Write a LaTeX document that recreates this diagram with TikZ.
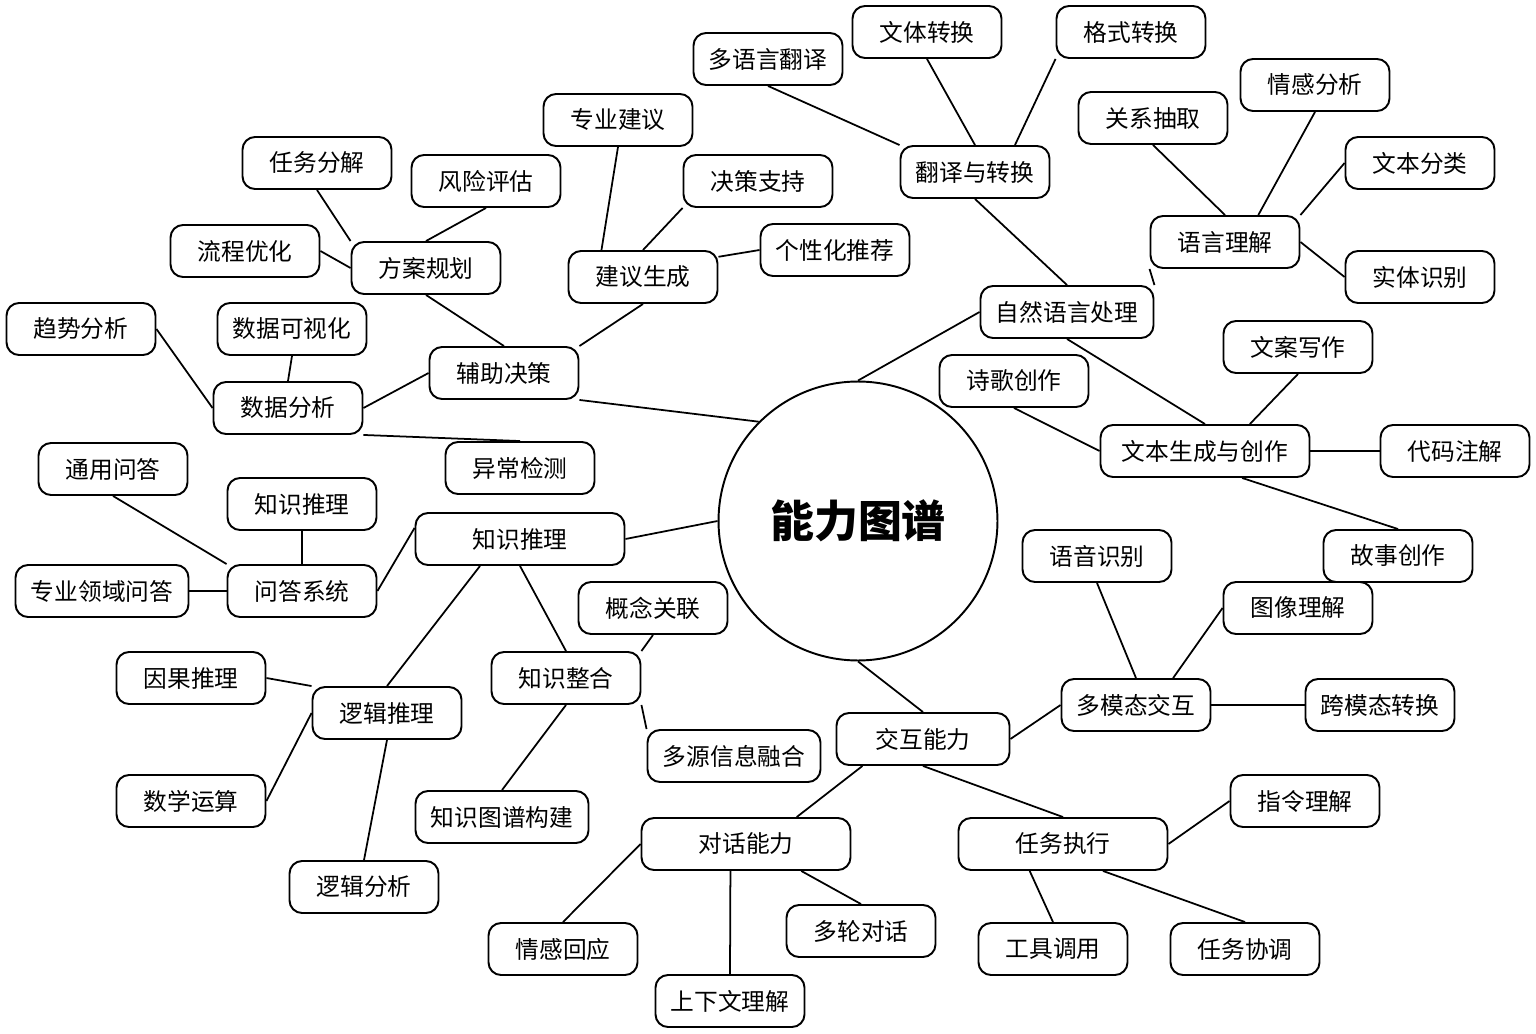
\documentclass[tikz,border=0pt]{standalone}
\usepackage{fontspec}
\setmainfont{Noto Sans CJK SC}
\usepackage{tikz}
\usetikzlibrary{backgrounds}

\begin{document}
\begin{tikzpicture}[x=0.02cm,y=-0.02cm,line width=1.1pt,
	box/.style={draw,fill=white,rounded corners=0.25cm,minimum width=2.98cm,minimum height=1.04cm,inner sep=0pt,font=\fontsize{13.5}{16}\selectfont},
	midbox/.style={box,minimum width=3.46cm},
	widebox/.style={box,minimum width=4.18cm}]
			\useasboundingbox (0,0) rectangle (1536,1034);
			
			\node[draw,circle,fill=white,minimum size=5.58cm,font=\fontsize{25}{30}\selectfont\bfseries] (core)at(858,521) {能力图谱};
			
			\node[midbox] (nlp)at(1067,312) {自然语言处理};
			\node[box] (fyzh)at(975,172) {翻译与转换};
			\node[box] (dyyfy)at(768,59) {多语言翻译};
			\node[box] (wtzh)at(927,32) {文体转换};
			\node[box] (gszh)at(1131,32) {格式转换};
			\node[box] (yylj)at(1225,242) {语言理解};
			\node[box] (gxcq)at(1153,118) {关系抽取};
			\node[box] (qgfx)at(1315,85) {情感分析};
			\node[box] (wbfl)at(1420,163) {文本分类};
			\node[box] (stsb)at(1420,277) {实体识别};
			\node[widebox] (wbsc)at(1205,451) {文本生成与创作};
			\node[box] (sgcz)at(1014,381) {诗歌创作};
			\node[box] (waxz)at(1298,347) {文案写作};
			\node[box] (dmzj)at(1455,451) {代码注解};
			\node[box] (gscz)at(1398,556) {故事创作};
			
			\node[box] (fzjc)at(504,373) {辅助决策};
			\node[box] (sjfx)at(288,408) {数据分析};
			\node[box] (qsfx)at(81,329) {趋势分析};
			\node[box] (sjksh)at(292,329) {数据可视化};
			\node[box] (ycjc)at(520,468) {异常检测};
			\node[box] (fagh)at(426,268) {方案规划};
			\node[box] (rwfj)at(317,163) {任务分解};
			\node[box] (fxpg)at(486,181) {风险评估};
			\node[box] (lcyh)at(245,251) {流程优化};
			\node[box] (jysc)at(643,277) {建议生成};
			\node[box] (zyjy)at(618,120) {专业建议};
			\node[box] (jczc)at(758,181) {决策支持};
			\node[box] (gxhtj)at(835,250) {个性化推荐};
			
			\node[widebox] (zstl)at(520,539) {知识推理};
			\node[box] (wdxt)at(302,591) {问答系统};
			\node[box] (tywd)at(113,469) {通用问答};
			\node[box] (zstlb)at(302,504) {知识推理};
			\node[midbox] (zylywd)at(102,591) {专业领域问答};
			\node[box] (ljtl)at(387,713) {逻辑推理};
			\node[box] (ygtl)at(191,678) {因果推理};
			\node[box] (sxys)at(191,801) {数学运算};
			\node[box] (ljfx)at(364,887) {逻辑分析};
			\node[box] (zszh)at(566,678) {知识整合};
			\node[box] (gngl)at(653,608) {概念关联};
			\node[midbox] (dyxx)at(734,756) {多源信息融合};
			\node[midbox] (zstp)at(502,817) {知识图谱构建};
			
			\node[midbox] (jhnl)at(923,739) {交互能力};
			\node[box] (dmt)at(1136,705) {多模态交互};
			\node[box] (yysb)at(1097,556) {语音识别};
			\node[box] (txlj)at(1298,608) {图像理解};
			\node[box] (kmt)at(1380,705) {跨模态转换};
			\node[widebox] (dhnl)at(746,844) {对话能力};
			\node[box] (qghy)at(563,949) {情感回应};
			\node[box] (sxwlj)at(730,1001) {上下文理解};
			\node[box] (dldh)at(861,931) {多轮对话};
			\node[widebox] (rwzx)at(1063,844) {任务执行};
			\node[box] (zllj)at(1305,801) {指令理解};
			\node[box] (gjdy)at(1053,949) {工具调用};
			\node[box] (rwxt)at(1245,949) {任务协调};
			
			\begin{scope}[on background layer={line width=1pt}]
			\draw (core.north) -- (nlp.west);
			\draw (nlp.north) -- (fyzh.south);
			\draw (fyzh.north west) -- (dyyfy.south);
			\draw (fyzh.north) -- (wtzh.south);
			\draw (fyzh.34) -- (gszh.south west);
			\draw (nlp.north east) -- (yylj.south west);
			\draw (yylj.north) -- (gxcq.south);
			\draw (yylj.39) -- (qgfx.south);
			\draw (yylj.north east) -- (wbfl.west);
			\draw (yylj.east) -- (stsb.west);
			\draw (nlp.south) -- (wbsc.north);
			\draw (wbsc.west) -- (sgcz.south);
			\draw (wbsc.31) -- (waxz.south);
			\draw (wbsc.east) -- (dmzj.west);
			\draw (wbsc.-36) -- (gscz.north);
			
			\draw (core.north west) -- (fzjc.south east);
			\draw (fzjc.north) -- (fagh.south);
			\draw (fagh.north west) -- (rwfj.south);
			\draw (fagh.north) -- (fxpg.south);
			\draw (fagh.west) -- (lcyh.east);
			\draw (fzjc.west) -- (sjfx.east);
			\draw (sjfx.west) -- (qsfx.east);
			\draw (sjfx.north) -- (sjksh.south);
			\draw (sjfx.south east) -- (ycjc.north);
			\draw (fzjc.north east) -- (jysc.south);
			\draw (jysc.147) -- (zyjy.south);
			\draw (jysc.north) -- (jczc.south west);
			\draw (jysc.15) -- (gxhtj.west);
			
			\draw (core.west) -- (zstl.east);
			\draw (zstl.174) -- (wdxt.east);
			\draw (wdxt.north west) -- (tywd.south);
			\draw (wdxt.north) -- (zstlb.south);
			\draw (wdxt.west) -- (zylywd.east);
			\draw (zstl.214) -- (ljtl.north);
			\draw (zstl.south) -- (zszh.north);
			\draw (ljtl.north west) -- (ygtl.east);
			\draw (ljtl.west) -- (sxys.east);
			\draw (ljtl.south) -- (ljfx.north);
			\draw (zszh.north east) -- (gngl.south);
			\draw (zszh.south east) -- (dyxx.north west);
			\draw (zszh.south) -- (zstp.north);
			
			\draw (core.south) -- (jhnl.north);
			\draw (jhnl.east) -- (dmt.west);
			\draw (dmt.north) -- (yysb.south);
			\draw (dmt.36) -- (txlj.west);
			\draw (dmt.east) -- (kmt.west);
			\draw (jhnl.204) -- (dhnl.28);
			\draw (jhnl.south) -- (rwzx.north);
			\draw (rwzx.east) -- (zllj.west);
			\draw (rwzx.219) -- (gjdy.north);
			\draw (rwzx.-34) -- (rwxt.north);
			\draw (dhnl.west) -- (qghy.north);
			\draw (dhnl.240) -- (sxwlj.north);
			\draw (dhnl.-26) -- (dldh.north);
			\end{scope}
		\end{tikzpicture}
\end{document}
